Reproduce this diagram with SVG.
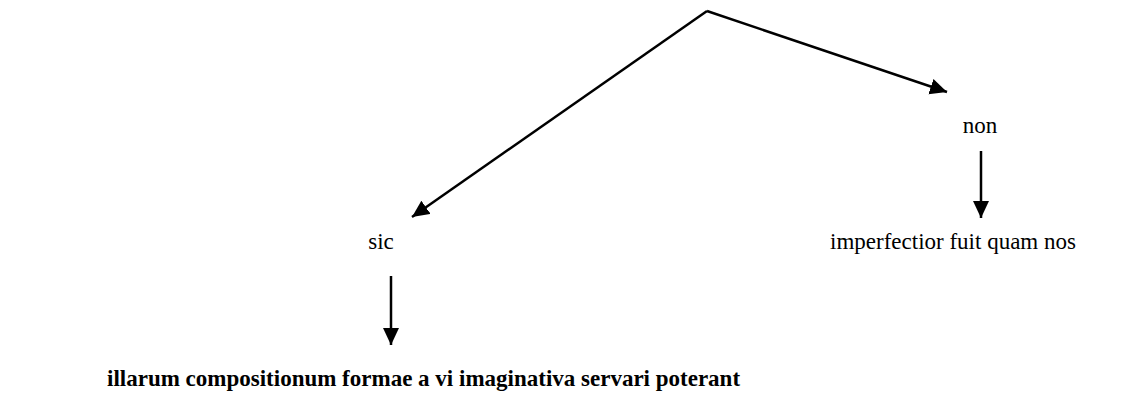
<svg xmlns="http://www.w3.org/2000/svg" width="1147" height="406" viewBox="0 0 1147 406">
<style>
text{font-family:"Liberation Serif","Times New Roman",serif;font-size:23px;fill:#000}
.b{font-weight:bold}
.c{stroke:#000;stroke-width:2.5;fill:none}
</style>
<defs>
<marker id="ah" markerUnits="userSpaceOnUse" markerWidth="18" markerHeight="18" viewBox="0 0 18 18" refX="17" refY="8" orient="auto">
<path d="M0,0 L17,8 L0,16 Z" fill="#000"/>
</marker>
</defs>
<rect width="1147" height="406" fill="#fff"/>
<g id="connectors">
<path class="c" d="M707,11 L947,92" marker-end="url(#ah)"/>
<path class="c" d="M707,11 L412,217" marker-end="url(#ah)"/>
<path class="c" d="M981,151 L981,218" marker-end="url(#ah)"/>
<path class="c" d="M391,276 L391,345" marker-end="url(#ah)"/>
</g>
<g id="node-non"><text x="980" y="133" text-anchor="middle">non</text></g>
<g id="node-sic"><text x="381" y="249" text-anchor="middle">sic</text></g>
<g id="node-imperfectior"><text x="953" y="249" text-anchor="middle">imperfectior fuit quam nos</text></g>
<g id="node-illarum"><text class="b" x="107" y="386">illarum compositionum formae a vi imaginativa servari poterant</text></g>
</svg>
